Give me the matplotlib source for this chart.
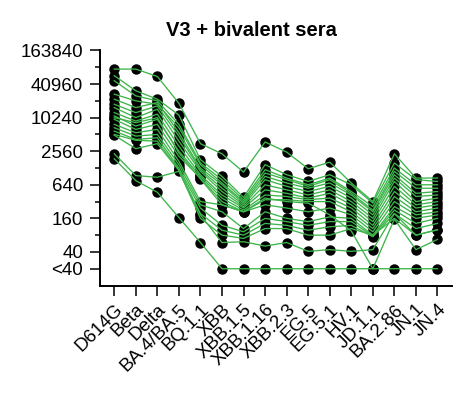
import matplotlib
matplotlib.use("Agg")
import matplotlib.pyplot as plt
from matplotlib.ticker import FixedLocator, NullFormatter

plt.rcParams['font.family'] = ['Liberation Sans', 'DejaVu Sans']

variants = ["D614G", "Beta", "Delta", "BA.4/BA.5", "BQ.1.1", "XBB", "XBB.1.5",
            "XBB.1.16", "XBB.2.3", "EG.5", "EG.5.1", "HV.1", "JD.1.1",
            "BA.2.86", "JN.1", "JN.4"]

# Neutralizing titers per serum (20 = below detection, shown as "<40")
serum_01 = [76000, 76000, 56000, 18500, 3500, 2300, 1080, 3750, 2470, 1240, 1630, 690, 320, 2300, 845, 845]
serum_02 = [57900, 31050, 21950, 11370, 1810, 905, 380, 1470, 970, 735, 970, 640, 300, 1575, 790, 735]
serum_03 = [47000, 25200, 20480, 7760, 1575, 790, 345, 1195, 845, 640, 845, 485, 260, 1280, 640, 640]
serum_04 = [27000, 20480, 17800, 6760, 1470, 690, 320, 1040, 790, 600, 790, 450, 225, 1115, 555, 555]
serum_05 = [21950, 15500, 19100, 5490, 1280, 640, 300, 905, 690, 555, 690, 420, 210, 970, 450, 485]
serum_06 = [17800, 12600, 16600, 4780, 1195, 555, 280, 790, 600, 485, 600, 370, 185, 845, 395, 420]
serum_07 = [15500, 10240, 14500, 3880, 1115, 485, 260, 640, 520, 420, 520, 320, 160, 735, 320, 370]
serum_08 = [12600, 8900, 11800, 3150, 970, 420, 245, 520, 450, 370, 450, 280, 140, 600, 280, 320]
serum_09 = [11000, 7240, 9550, 2560, 905, 370, 225, 420, 395, 345, 370, 245, 120, 485, 245, 280]
serum_10 = [9550, 6300, 7760, 2080, 845, 320, 210, 345, 345, 320, 320, 210, 105, 395, 210, 245]
serum_11 = [7760, 5490, 6300, 1690, 320, 280, 210, 280, 245, 210, 245, 185, 92, 320, 185, 210]
serum_12 = [6760, 4780, 5120, 1470, 280, 210, 105, 210, 160, 140, 170, 160, 80, 260, 160, 185]
serum_13 = [5880, 4160, 4460, 1280, 245, 120, 92, 160, 140, 120, 140, 140, 77, 225, 130, 160]
serum_14 = [5120, 4020, 3880, 1195, 195, 98, 80, 130, 120, 98, 113, 120, 75, 195, 105, 130]
serum_15 = [4950, 2840, 3500, 1155, 160, 80, 70, 105, 105, 80, 80, 105, 80, 160, 80, 100]
serum_16 = [10240, 8320, 10240, 2390, 815, 280, 210, 370, 320, 300, 185, 95, 20, 155, 44, 67]
serum_17 = [2300, 935, 875, 1115, 185, 59, 61, 51, 59, 41, 44, 41, 44, 195, 80, 100]
serum_18 = [1875, 760, 470, 165, 59, 20, 20, 20, 20, 20, 20, 20, 20, 20, 20, 20]

sera = [serum_01, serum_02, serum_03, serum_04, serum_05, serum_06, serum_07,
        serum_08, serum_09, serum_10, serum_11, serum_12, serum_13, serum_14,
        serum_15, serum_16, serum_17, serum_18]

ytick_vals = [20, 40, 160, 640, 2560, 10240, 40960, 163840]
ytick_labels = ["<40", "40", "160", "640", "2560", "10240", "40960", "163840"]
yminor_vals = [80, 320, 1280, 5120, 20480, 81920]

title = "V3 + bivalent sera"

fig = plt.figure(figsize=(4.62, 3.96), dpi=100)
ax = fig.add_axes([0.2165, 0.279, 0.7612, 0.5935])

x = list(range(len(variants)))
for s in sera:
    ax.plot(x, s, linestyle='none', marker='o', markersize=6.5,
            markerfacecolor='black', markeredgecolor='black', zorder=2,
            clip_on=False)
for s in sera:
    ax.plot(x, s, color='#3DB54A', linewidth=0.95, zorder=3, clip_on=False)

ax.set_yscale('log', base=2)
ax.set_ylim(10, 163840)
ax.set_xlim(-0.66, len(variants) - 1 + 0.66)

ax.yaxis.set_major_locator(FixedLocator(ytick_vals))
ax.set_yticklabels(ytick_labels)
ax.yaxis.set_minor_locator(FixedLocator(yminor_vals))
ax.yaxis.set_minor_formatter(NullFormatter())

ax.set_xticks(x)
ax.set_xticklabels(variants, rotation=45, ha='right', va='top',
                   rotation_mode='anchor')

for side in ['top', 'right']:
    ax.spines[side].set_visible(False)
for side in ['left', 'bottom']:
    ax.spines[side].set_linewidth(1.4)
    ax.spines[side].set_color('black')

ax.tick_params(axis='both', which='major', length=7.2, width=1.1,
               labelsize=13.5, colors='black', pad=5)
ax.tick_params(axis='y', which='minor', length=3.8, width=1.1)
ax.tick_params(axis='x', which='major', pad=4)

fig.text(251 / 462, 1 - 35.7 / 396, title, ha='center', va='baseline',
         fontsize=14.5, fontweight='bold')

fig.savefig("out.png", dpi=100)
